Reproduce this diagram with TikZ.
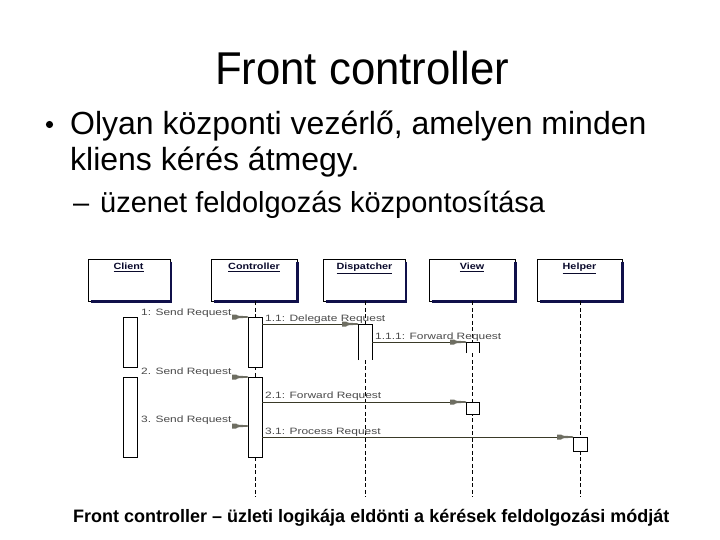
\documentclass[tikz,border=0pt]{standalone}
\usepackage{fontspec}
\setmainfont{Liberation Sans}
\newfontfamily\titlefont[FakeStretch=0.95]{Liberation Sans}
\newfontfamily\umlfont[FakeStretch=1.3]{Liberation Sans}
\newfontfamily\umlhead[FakeStretch=1.2]{Liberation Sans}
\usetikzlibrary{calc}
\definecolor{navyc}{HTML}{10104A}
\definecolor{msgc}{HTML}{3A3A28}
\definecolor{headg}{HTML}{6E6E62}
\definecolor{lblc}{HTML}{4A4A4A}
\tikzset{
  headbox/.style={draw=black, line width=0.7pt, fill=white, minimum width=82pt, minimum height=42pt, inner sep=0pt},
  shad/.style={draw=navyc, line width=2.6pt},
  headlbl/.style={anchor=base, inner sep=0pt, font=\umlhead\bfseries\fontsize{9}{10}\selectfont, text=navyc!60!black},
  lifeline/.style={draw=black, line width=0.9pt, dash pattern=on 4pt off 2.5pt},
  actbar/.style={draw=black, line width=0.8pt, fill=white},
  msg/.style={draw=msgc, line width=0.9pt},
  msglbl/.style={anchor=base west, inner sep=0pt, font=\umlfont\fontsize{9.2}{10}\selectfont, text=lblc},
  bodytext/.style={anchor=base west, inner sep=0pt}
}
\newcommand\hshadow[1]{\draw[shad] ([yshift=-3pt]#1.north east) -- (#1.south east) -- ([xshift=3pt]#1.south west);}
\newcommand\ahead[1]{\fill[headg] ($(#1)+(-16,-2.5)$) -- ($(#1)+(-12,-2.5)$) -- ($(#1)+(-10,-1.3)$) -- ($(#1)+(0,-0.7)$) -- ($(#1)+(0,0.7)$) -- ($(#1)+(-10,1.3)$) -- ($(#1)+(-12,2.5)$) -- ($(#1)+(-16,2.5)$) -- cycle;}
\begin{document}
\begin{tikzpicture}[x=1pt,y=-1pt]
\useasboundingbox[fill=white] (0,0) rectangle (720,540);

% ---- slide text
\node[anchor=base, inner sep=0pt, font=\titlefont\fontsize{46}{50}\selectfont] (title) at (362,85) {Front controller};
\fill (49.5,124.5) circle (3.6pt);
\coordinate (bul) at (49.5,124.5);
\node[bodytext, font=\fontsize{32}{36}\selectfont] (l1) at (70,135) {Olyan központi vezérlő, amelyen minden};
\node[bodytext, font=\fontsize{32}{36}\selectfont] (l2) at (70,171) {kliens kérés átmegy.};
\node[bodytext, font=\fontsize{29}{32}\selectfont] (l3d) at (73,212) {–};
\node[bodytext, font=\fontsize{29}{32}\selectfont] (l3) at (100,212) {üzenet feldolgozás központosítása};
\node[bodytext, font=\bfseries\fontsize{18}{20}\selectfont] (foot) at (73,522) {Front controller – üzleti logikája eldönti a kérések feldolgozási módját};

% ---- lifelines
\coordinate (ctrlEnd) at (255,497);
\coordinate (dispEnd) at (365,497);
\coordinate (viewEnd) at (472,497);
\coordinate (helpEnd) at (580,497);

% ---- head boxes
\node[headbox] (client) at (129.5,280) {};
\node[headbox, minimum width=86pt] (ctrl) at (254,280) {};
\node[headbox, minimum width=82pt] (disp) at (364.5,280) {};
\node[headbox, minimum width=86pt] (view) at (472,280) {};
\node[headbox, minimum width=85pt] (help) at (579.5,280) {};
\foreach \b in {client,ctrl,disp,view,help}{\hshadow{\b}}
\node[headlbl] (clientl) at ($(client.north)+(-1,11)$) {\underline{Client}};
\node[headlbl] (ctrll) at ($(ctrl.north)+(0,11)$) {\underline{Controller}};
\node[headlbl] (displ) at ($(disp.north)+(0,11)$) {\underline{Dispatcher}};
\node[headlbl] (viewl) at ($(view.north)+(0,11)$) {\underline{View}};
\node[headlbl] (helpl) at ($(help.north)+(0,11)$) {\underline{Helper}};

\draw[lifeline] (ctrl.south -| ctrlEnd) -- (ctrlEnd);
\draw[lifeline] (disp.south -| dispEnd) -- (dispEnd);
\draw[lifeline] (view.south -| viewEnd) -- (viewEnd);
\draw[lifeline] (help.south -| helpEnd) -- (helpEnd);

% ---- activation bars
\draw[actbar] (123,317) rectangle (137,367);
\draw[actbar] (123,377) rectangle (137,457);
\draw[actbar] (248,317) rectangle (262,367);
\draw[actbar] (248,377) rectangle (262,457);
\fill[white] (358,324) rectangle (372,360);
\draw[actbar] (358,360) -- (358,324) -- (372,324) -- (372,360);
\fill[white] (466,342) rectangle (479,353);
\draw[actbar] (466,353) -- (466,342) -- (479,342) -- (479,353);
\draw[actbar] (466,402) rectangle (479,414);
\draw[actbar] (573,437) rectangle (587,451);

% ---- message end points
\coordinate (m1e) at (248,317);
\coordinate (m11s) at (262,324);  \coordinate (m11e) at (358,324);
\coordinate (m111s) at (372,342); \coordinate (m111e) at (466,342);
\coordinate (m2e) at (248,377);
\coordinate (m21s) at (262,402);  \coordinate (m21e) at (466,402);
\coordinate (m3e) at (248,426);
\coordinate (m31s) at (262,437);  \coordinate (m31e) at (573,437);

% ---- messages
\draw[msg] (m11s) -- (m11e);
\draw[msg] (m111s) -- (m111e);
\draw[msg] (m21s) -- (m21e);
\draw[msg] (m31s) -- (m31e);
\ahead{m1e}
\ahead{m11e}
\ahead{m111e}
\ahead{m2e}
\ahead{m21e}
\ahead{m3e}
\ahead{m31e}

% ---- message labels
\node[msglbl] (t1) at (141,315) {1: Send Request};
\node[msglbl] (t11) at (265,321) {1.1: Delegate Request};
\node[msglbl] (t111) at (375,339) {1.1.1: Forward Request};
\node[msglbl] (t2) at (141,374) {2. Send Request};
\node[msglbl] (t21) at (265,398) {2.1: Forward Request};
\node[msglbl] (t3) at (141,422) {3. Send Request};
\node[msglbl] (t31) at (265,434) {3.1: Process Request};
\end{tikzpicture}
\end{document}
